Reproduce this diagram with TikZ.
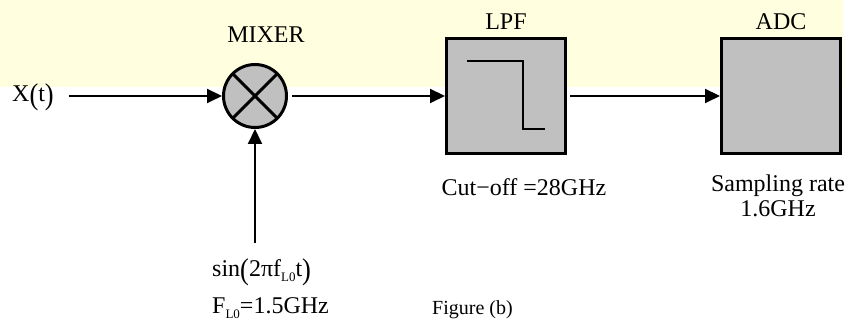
\documentclass[tikz,border=0pt]{standalone}
\usepackage{fontspec}
\setmainfont{Liberation Serif}
\usetikzlibrary{arrows.meta}
\usetikzlibrary{calc}
\usetikzlibrary{positioning}

\definecolor{bandyellow}{RGB}{255,255,224}
\definecolor{blockgray}{RGB}{192,192,192}
\newcommand{\losub}{\raisebox{-5pt}{\fontsize{13pt}{13pt}\selectfont L0}}
\newcommand{\tallpar}[1]{\raisebox{-2.5pt}{\scalebox{1.1}[1.25]{#1}}}

\begin{document}
\begin{tikzpicture}[
		x=1pt,
		y=1pt,
		font=\fontsize{24pt}{26pt}\selectfont,
		>={Triangle[length=15,width=14]},
	]
		\tikzset{block/.style={
			draw,
			rectangle,
			line width=3,
			fill=blockgray,
			minimum width=119,
			minimum height=115,
		}}
		\tikzset{mixernode/.style={
			draw,
			circle,
			line width=3,
			fill=blockgray,
			minimum size=63,
			inner sep=0,
		}}
		\tikzset{tag/.style={
			inner sep=0,
		}}
		\tikzset{wire/.style={
			line width=2,
		}}

		\useasboundingbox (0,0) rectangle (850,320);
		\fill[bandyellow] (0,233) rectangle (843,320);

		\node[mixernode] (mixer) at (255,224) {};
		\draw[line width=3] ($(mixer)+(45:31)$) -- ($(mixer)+(225:31)$);
		\draw[line width=3] ($(mixer)+(135:31)$) -- ($(mixer)+(315:31)$);

		\node[block] (lpf) at (506,224) {};
		\draw[line width=2.5] ($(lpf)+(-39,35)$) -| ($(lpf)+(17,-33)$) -- ($(lpf)+(39,-33)$);

		\node[block] (adc) at (781,224) {};

		\node[tag,anchor=base] (mixertext) at (266,277) {MIXER};
		\node[tag,anchor=base] (lpftext) at (506,290) {LPF};
		\node[tag,anchor=base] (adctext) at (781,290) {ADC};

		\node[tag,anchor=base west] (xt) at (12,218) {X\tallpar{(}t\tallpar{)}};
		\node[tag,anchor=base west] (lotext) at (212,43) {sin\tallpar{(}2πf\losub{}t\tallpar{)}};
		\node[tag,anchor=base west] (lofreq) at (212,6.5) {F\losub{}=1.5GHz};
		\node[tag,anchor=base] (cutoff) at (524,124) {Cut−off =28GHz};
		\node[tag,anchor=base] (rate) at (778,128) {Sampling rate};
		\node[tag,anchor=base] (ratefreq) at (778,103) {1.6GHz};
		\node[tag,anchor=base west,font=\fontsize{20pt}{22pt}\selectfont] (figtext) at (432,5) {Figure (b)};

		\coordinate (lo) at (255,77);

		\draw[->,wire,shorten <=15] (xt.east |- mixer) -- (mixer);
		\draw[->,wire,shorten <=4] (mixer) -- (lpf);
		\draw[->,wire,shorten <=3] (lpf) -- (adc);
		\draw[->,wire] (lo) -- (mixer);
	\end{tikzpicture}
\end{document}
